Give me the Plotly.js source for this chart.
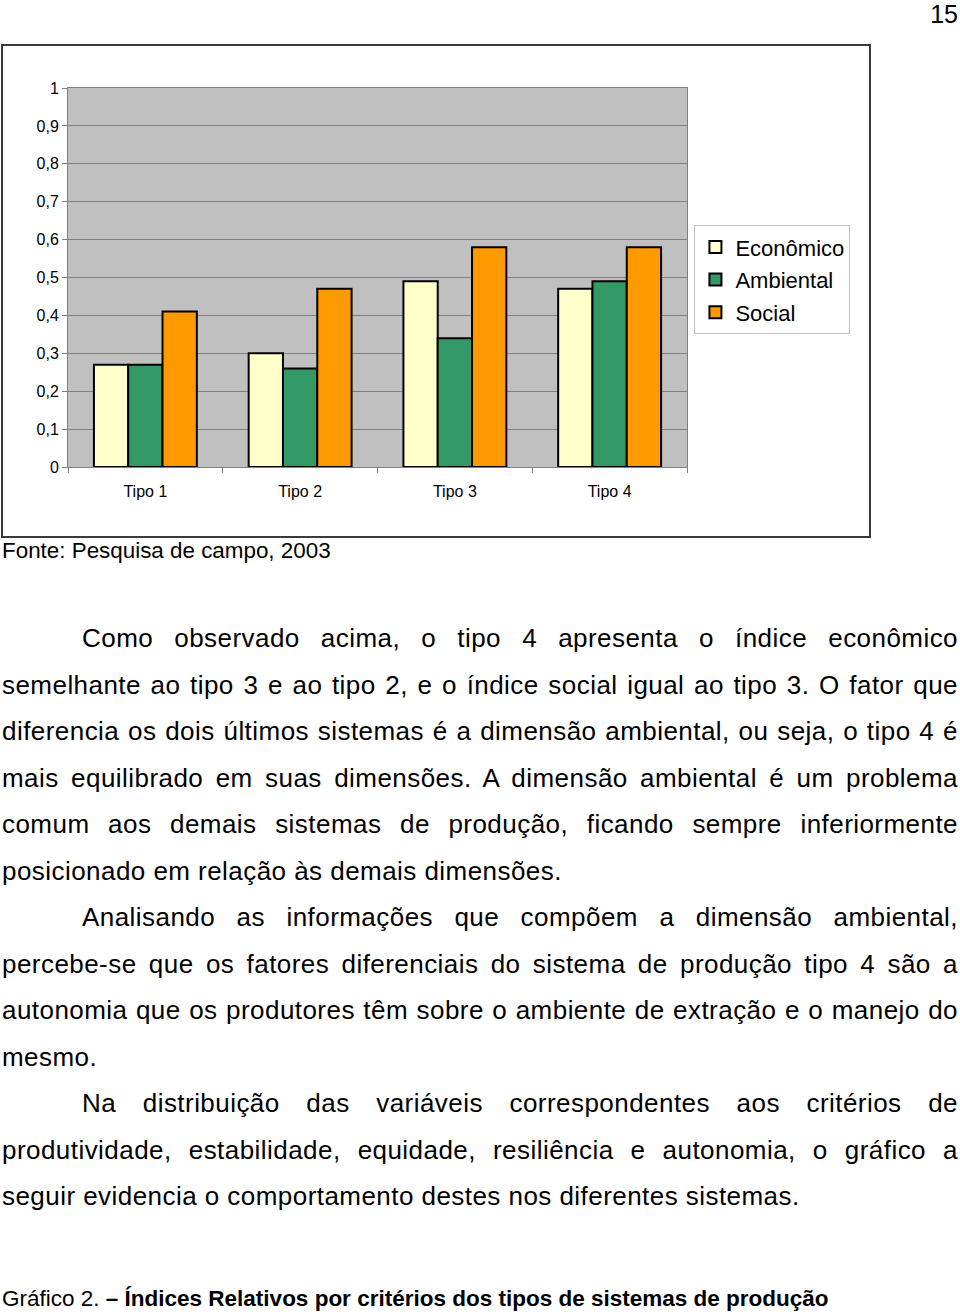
<!DOCTYPE html>
<html>
<head>
<meta charset="utf-8">
<script src="https://cdn.plot.ly/plotly-3.0.1.min.js"></script>
<style>
  html, body { margin: 0; padding: 0; background: #fff; }
  body { width: 960px; height: 1315px; position: relative; overflow: hidden; font-family: "Liberation Sans", Arial, sans-serif; color: #000; }
  #pagenum { position: absolute; left: 925px; top: 0px; width: 33px; text-align: right; font-size: 25px; line-height: 28px; }
  #frame { position: absolute; left: 1px; top: 44px; width: 866px; height: 490px; border: 2px solid #3a3a3a; }
  #chart { width: 866px; height: 490px; }
  #fonte { position: absolute; left: 2px; top: 538px; font-size: 22.4px; line-height: 26px; white-space: nowrap; }
  #body { position: absolute; left: 2px; top: 615px; width: 956px; font-size: 26px; letter-spacing: 0.45px; line-height: 46.5px; }
  #body .ln { white-space: nowrap; text-align: justify; text-align-last: justify; height: 46.5px; }
  #body .ln.ind { padding-left: 80px; }
  #body .ln.last { text-align-last: left; }
  #caption { position: absolute; left: 2px; top: 1285px; font-size: 22.5px; line-height: 28px; white-space: nowrap; }
  #caption b { font-weight: bold; }
</style>
</head>
<body>
<div id="pagenum">15</div>
<div id="frame"><div id="chart"></div></div>
<div id="fonte">Fonte: Pesquisa de campo, 2003</div>
<div id="body">
<div class="ln ind">Como observado acima, o tipo 4 apresenta o índice econômico</div>
<div class="ln">semelhante ao tipo 3 e ao tipo 2, e o índice social igual ao tipo 3. O fator que</div>
<div class="ln">diferencia os dois últimos sistemas é a dimensão ambiental, ou seja, o tipo 4 é</div>
<div class="ln">mais equilibrado em suas dimensões. A dimensão ambiental é um problema</div>
<div class="ln">comum aos demais sistemas de produção, ficando sempre inferiormente</div>
<div class="ln last">posicionado em relação às demais dimensões.</div>
<div class="ln ind">Analisando as informações que compõem a dimensão ambiental,</div>
<div class="ln">percebe-se que os fatores diferenciais do sistema de produção tipo 4 são a</div>
<div class="ln">autonomia que os produtores têm sobre o ambiente de extração e o manejo do</div>
<div class="ln last">mesmo.</div>
<div class="ln ind">Na distribuição das variáveis correspondentes aos critérios de</div>
<div class="ln">produtividade, estabilidade, equidade, resiliência e autonomia, o gráfico a</div>
<div class="ln last">seguir evidencia o comportamento destes nos diferentes sistemas.</div>
</div>
<div id="caption">Gráfico 2. <b>– Índices Relativos por critérios dos tipos de sistemas de produção</b></div>
<script>
var categories = ["Tipo 1", "Tipo 2", "Tipo 3", "Tipo 4"];
var economico = [0.27, 0.30, 0.49, 0.47];
var ambiental = [0.27, 0.26, 0.34, 0.49];
var social = [0.41, 0.47, 0.58, 0.58];
var seriesNames = ["Econômico", "Ambiental", "Social"];
var yTicks = [0, 0.1, 0.2, 0.3, 0.4, 0.5, 0.6, 0.7, 0.8, 0.9, 1];

var colors = ["#FFFFCC", "#339966", "#FF9900"];
var vals = [economico, ambiental, social];
var traces = vals.map(function (v, i) {
  return {
    type: "bar",
    x: categories,
    y: v,
    name: seriesNames[i],
    legendgroup: "g" + i,
    marker: { color: colors[i], line: { color: "#000", width: 2 } },
    hoverinfo: "none"
  };
});

var layout = {
  width: 866,
  height: 490,
  margin: { l: 65, r: 182, t: 42, b: 69, autoexpand: false },
  paper_bgcolor: "#ffffff",
  plot_bgcolor: "#C0C0C0",
  separators: ",.",
  barmode: "group",
  bargap: 0.335,
  bargroupgap: 0,
  font: { family: "Liberation Sans, Arial, sans-serif", size: 16, color: "#000" },
  showlegend: true,
  legend: {
    x: 1.012, xanchor: "left",
    y: 0.638, yanchor: "top",
    bgcolor: "#ffffff",
    bordercolor: "#c0c0c0",
    borderwidth: 1,
    font: { size: 22, color: "#000" },
    traceorder: "grouped",
    tracegroupgap: 1
  },
  xaxis: {
    type: "category",
    showgrid: false,
    ticks: "outside",
    tickson: "boundaries",
    ticklen: 5,
    tickcolor: "#808080",
    ticklabelstandoff: 10,
    showline: true,
    linecolor: "#808080",
    linewidth: 1,
    mirror: true,
    zeroline: false,
    fixedrange: true
  },
  yaxis: {
    range: [0, 1],
    tickvals: yTicks,
    showgrid: true,
    gridcolor: "#808080",
    gridwidth: 1,
    ticks: "outside",
    ticklen: 5,
    tickcolor: "#808080",
    showline: true,
    linecolor: "#808080",
    linewidth: 1,
    mirror: true,
    zeroline: false,
    fixedrange: true
  }
};

Plotly.newPlot("chart", traces, layout, { displayModeBar: false, staticPlot: true });
</script>
</body>
</html>
